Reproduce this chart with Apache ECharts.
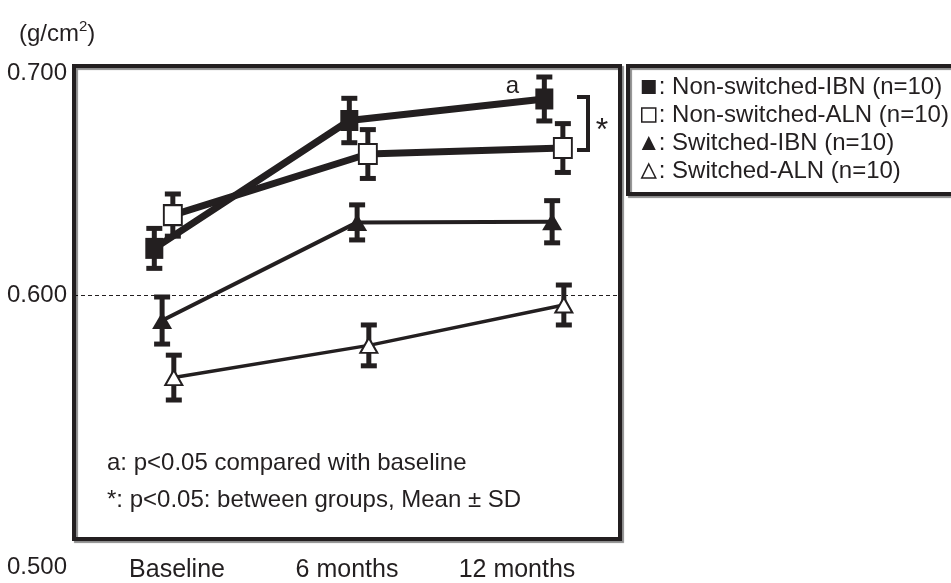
<!DOCTYPE html>
<html>
<head>
<meta charset="utf-8">
<script src="https://cdn.jsdelivr.net/npm/echarts@6/dist/echarts.min.js"></script>
<style>
html,body{margin:0;padding:0;background:#fff;}
#chart{width:951px;height:583px;}
</style>
</head>
<body>
<div id="chart"></div>
<script>
// ---------- data ----------
const categories = ['Baseline', '6 months', '12 months'];
const seriesNames = ['Non-switched-IBN (n=10)', 'Non-switched-ALN (n=10)', 'Switched-IBN (n=10)', 'Switched-ALN (n=10)'];
const nonSwitchedIBN    = [0.621, 0.6786, 0.6883];
const nonSwitchedIBN_sd = [0.009, 0.0100, 0.0099];
const nonSwitchedALN    = [0.636, 0.6635, 0.6662];
const nonSwitchedALN_sd = [0.0095, 0.011, 0.011];
const switchedIBN       = [0.5885, 0.6327, 0.6330];
const switchedIBN_sd    = [0.0106, 0.0079, 0.0095];
const switchedALN       = [0.5628, 0.5773, 0.5955];
const switchedALN_sd    = [0.0101, 0.0092, 0.0090];
const yTicks = [0.5, 0.6, 0.7];
const refLine = 0.6;
const noteLines = ['a: p<0.05 compared with baseline', '*: p<0.05: between groups, Mean \u00b1 SD'];

// ---------- style ----------
const ink = '#231f20';
const font = '"Liberation Sans", Arial, sans-serif';
const dodge = [-0.06, 0.035, -0.02, 0.04];
const means = [nonSwitchedIBN, nonSwitchedALN, switchedIBN, switchedALN];
const sds = [nonSwitchedIBN_sd, nonSwitchedALN_sd, switchedIBN_sd, switchedALN_sd];
const styles = [
  {symbol: 'rect', size: [18, 21], fill: ink, width: 7},
  {symbol: 'rect', size: [18, 20], fill: '#ffffff', width: 7},
  {symbol: 'triangle', size: [20, 17], fill: ink, width: 4},
  {symbol: 'triangle', size: [17, 15], fill: '#ffffff', width: 3.5}
];

const chart = echarts.init(document.getElementById('chart'), null, {renderer: 'canvas'});

function errRender(params, api) {
  const x = api.value(0), lo = api.value(1), hi = api.value(2);
  const t = api.coord([x, hi]), b = api.coord([x, lo]);
  const hw = 8;
  return {type: 'group', children: [
    {type: 'line', shape: {x1: t[0], y1: t[1], x2: b[0], y2: b[1]}, style: {stroke: ink, lineWidth: 5}},
    {type: 'rect', shape: {x: t[0] - hw, y: t[1] - 2.5, width: 2 * hw, height: 5}, style: {fill: ink}},
    {type: 'rect', shape: {x: b[0] - hw, y: b[1] - 2.5, width: 2 * hw, height: 5}, style: {fill: ink}}
  ]};
}

const series = [];
means.forEach((m, s) => {
  series.push({
    type: 'custom', name: seriesNames[s] + ' SD', xAxisIndex: 0, yAxisIndex: 0, z: 2,
    renderItem: errRender, silent: true,
    data: m.map((v, i) => [i + dodge[s], v - sds[s][i], v + sds[s][i]])
  });
});
means.forEach((m, s) => {
  const st = styles[s];
  const ser = {
    type: 'line', name: seriesNames[s], xAxisIndex: 0, yAxisIndex: 0, z: 3 + s,
    data: m.map((v, i) => [i + dodge[s], v]),
    symbol: st.symbol, symbolSize: st.size, showSymbol: true,
    lineStyle: {color: ink, width: st.width},
    itemStyle: {color: st.fill, borderColor: ink, borderWidth: st.fill === ink ? 0 : 2, opacity: 1}
  };
  if (s === 0) {
    ser.markLine = {silent: true, symbol: 'none', z: 1, label: {show: false},
      lineStyle: {type: [4, 3], width: 1, color: ink}, data: [{yAxis: refLine}]};
  }
  series.push(ser);
});

const option = {
  animation: false,
  backgroundColor: '#ffffff',
  textStyle: {fontFamily: font, color: ink},
  title: {
    text: '{a|(g/cm}{s|2}{a|)}', left: 14, top: 14,
    textStyle: {fontWeight: 'normal', rich: {
      a: {fontSize: 24, lineHeight: 30, color: ink, fontFamily: font, fontWeight: 'normal'},
      s: {fontSize: 15, lineHeight: 30, verticalAlign: 'top', color: ink, fontFamily: font, fontWeight: 'normal'}
    }}
  },
  legend: {
    orient: 'vertical', left: 636, top: 68, itemWidth: 14, itemHeight: 14, itemGap: 0,
    selectedMode: false, formatter: ': {name}',
    textStyle: {fontSize: 24, lineHeight: 28, color: ink, fontFamily: font, padding: [0, 0, 0, -2]},
    data: [
      {name: seriesNames[0], icon: 'rect', itemStyle: {color: ink, borderWidth: 0}},
      {name: seriesNames[1], icon: 'rect', itemStyle: {color: '#ffffff', borderColor: ink, borderWidth: 1.5}},
      {name: seriesNames[2], icon: 'triangle', itemStyle: {color: ink, borderWidth: 0}},
      {name: seriesNames[3], icon: 'triangle', itemStyle: {color: '#ffffff', borderColor: ink, borderWidth: 1.5}}
    ]
  },
  grid: [
    {left: 74, right: 331, top: 73, bottom: 66},
    {left: 92, width: 510, top: 73, bottom: 66}
  ],
  xAxis: [
    {type: 'value', gridIndex: 0, min: -0.4718, max: 2.328, show: false},
    {type: 'category', gridIndex: 1, data: categories,
      axisLine: {show: false}, axisTick: {show: false}, splitLine: {show: false},
      axisLabel: {margin: 50, fontSize: 25, color: ink, fontFamily: font}}
  ],
  yAxis: [
    {type: 'value', gridIndex: 0, min: yTicks[0], max: yTicks[yTicks.length - 1], interval: yTicks[1] - yTicks[0],
      axisLine: {show: false}, axisTick: {show: false}, splitLine: {show: false},
      axisLabel: {margin: 7, fontSize: 24, color: ink, fontFamily: font,
        formatter: v => Math.abs(v - yTicks[0]) < 1e-9 ? '{low|' + v.toFixed(3) + '}' : v.toFixed(3),
        rich: {low: {fontSize: 24, color: ink, fontFamily: font, padding: [100, 0, 0, 0]}}}},
    {type: 'value', gridIndex: 1, show: false, min: 0, max: 1}
  ],
  series: series
};
chart.setOption(option);

// annotations positioned from data
const pTop = chart.convertToPixel({xAxisIndex: 0, yAxisIndex: 0}, [2 + dodge[0], nonSwitchedIBN[2]]);
const pBot = chart.convertToPixel({xAxisIndex: 0, yAxisIndex: 0}, [2 + dodge[1], nonSwitchedALN[2]]);
const bx = 588;
chart.setOption({
  graphic: [
    {type: 'rect', z: 10, shape: {x: 74, y: 66, width: 546, height: 473},
      style: {fill: 'none', stroke: ink, lineWidth: 4, shadowColor: 'rgba(0,0,0,0.45)', shadowOffsetX: 2, shadowOffsetY: 2, shadowBlur: 1}},
    {type: 'rect', z: 10, shape: {x: 628, y: 66, width: 360, height: 128},
      style: {fill: 'none', stroke: ink, lineWidth: 4, shadowColor: 'rgba(0,0,0,0.45)', shadowOffsetX: 2, shadowOffsetY: 2, shadowBlur: 1}},
    {type: 'text', z: 10, x: 107, y: 463, style: {text: noteLines[0], fontSize: 24, fontFamily: font, fill: ink, verticalAlign: 'middle'}},
    {type: 'text', z: 10, x: 107, y: 500, style: {text: noteLines[1], fontSize: 24, fontFamily: font, fill: ink, verticalAlign: 'middle'}},
    {type: 'text', z: 10, x: pTop[0] - 32, y: pTop[1] - 13, style: {text: 'a', fontSize: 24, fontFamily: font, fill: ink, align: 'center', verticalAlign: 'middle'}},
    {type: 'polyline', z: 10, shape: {points: [[bx - 11, pTop[1] - 2], [bx, pTop[1] - 2], [bx, pBot[1] + 2], [bx - 11, pBot[1] + 2]]},
      style: {fill: 'none', stroke: ink, lineWidth: 4, lineJoin: 'miter'}},
    {type: 'text', z: 10, x: bx + 14, y: (pTop[1] + pBot[1]) / 2 + 8, style: {text: '*', fontSize: 32, fontFamily: font, fill: ink, align: 'center', verticalAlign: 'middle'}}
  ]
});
</script>
</body>
</html>
